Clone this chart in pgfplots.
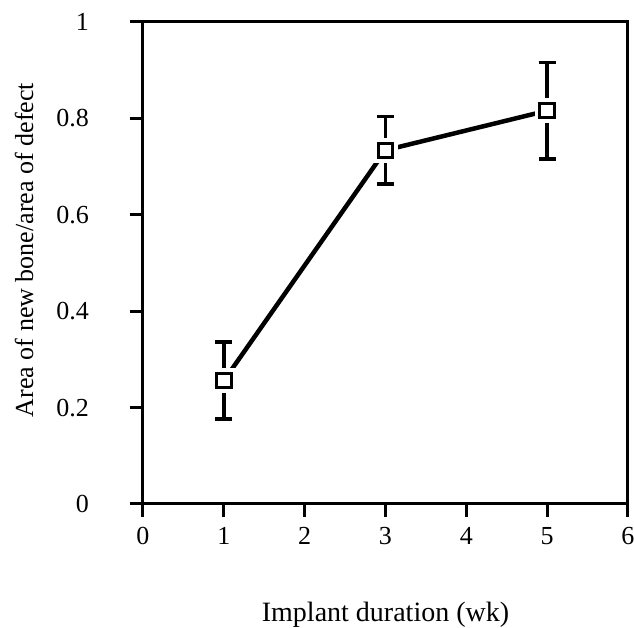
\documentclass[border=0pt]{standalone}
\usepackage{pgfplots}
\pgfplotsset{compat=1.18}
\usepackage{fontspec}
\setmainfont{Liberation Serif}
\begin{document}
\begin{tikzpicture}
\useasboundingbox (-143pt,-124pt) rectangle (491pt,504pt);
\begin{axis}[
  scale only axis,
  width=485pt, height=482pt,
  xmin=0, xmax=6, ymin=0, ymax=1,
  xtick={0,1,2,3,4,5,6},
  ytick={0,0.2,0.4,0.6,0.8,1},
  yticklabels={0,0.2,0.4,0.6,0.8,1},
  xticklabels={0,1,2,3,4,5,6},
  tick align=outside,
  major tick length=13pt,
  xtick pos=bottom, ytick pos=left,
  axis line style={line width=3pt},
  every tick/.style={black, line width=3pt},
  tick label style={font=\fontsize{26}{30}\selectfont, inner sep=0pt},
  yticklabel style={anchor=east, xshift=-41pt},
  xticklabel style={anchor=north, yshift=-10pt},
  xlabel={Implant duration (wk)},
  ylabel={Area of new bone/area of defect},
  xlabel style={font=\fontsize{28}{32}\selectfont, at={(axis description cs:0.5,-0.229)}, anchor=center},
  ylabel style={font=\fontsize{26}{30}\selectfont, at={(axis description cs:-0.245,0.527)}, anchor=center},
  clip=false,
]
% error bars
\addplot[black, only marks, mark=none, line width=3.5pt,
  error bars/.cd, y dir=both, y explicit,
  error mark=-, error bar style={line width=3.5pt},
  error mark options={rotate=90, line width=3.5pt, mark size=8.5pt, black}]
  coordinates {
    (1,0.256) +- (0,0.080)
    (3,0.734) +- (0,0.070)
    (5,0.816) +- (0,0.100)
  };
% white gaps around markers
\addplot[only marks, mark=square*, mark size=12pt,
  mark options={draw=white, fill=white, line width=0pt}]
  coordinates {(1,0.256) (3,0.734) (5,0.816)};
% data line with markers
\addplot[black, line width=4.5pt, mark=square*, mark size=7.2pt,
  mark options={fill=white, draw=black, line width=3pt, solid}]
  coordinates {(1,0.256) (3,0.734) (5,0.816)};
\end{axis}
\end{tikzpicture}
\end{document}
